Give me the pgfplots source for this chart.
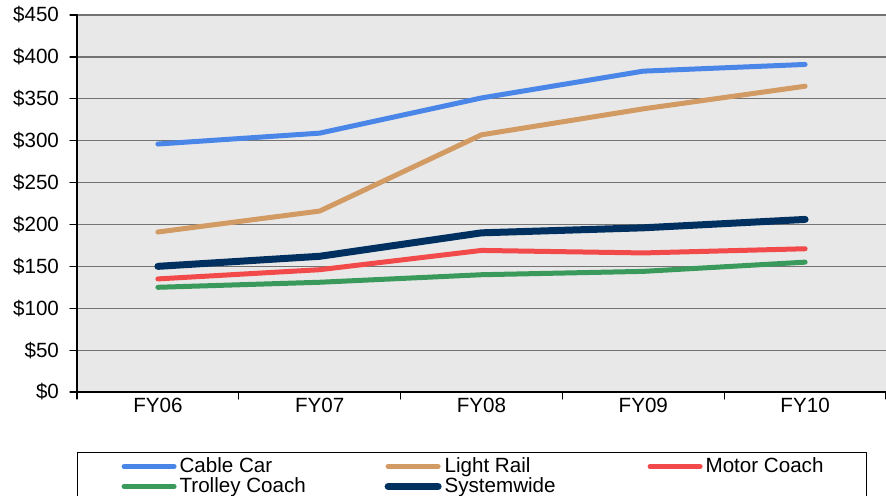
\documentclass[border=0pt]{standalone}
\usepackage{pgfplots}
\pgfplotsset{compat=1.18}
\usepackage{fontspec}
\setmainfont{Liberation Sans}

\definecolor{cablecar}{HTML}{4A86E8}
\definecolor{lightrail}{HTML}{D29B64}
\definecolor{motorcoach}{HTML}{F24A4A}
\definecolor{trolley}{HTML}{3A9A5C}
\definecolor{system}{HTML}{00305F}
\definecolor{plotbg}{HTML}{E8E8E8}

\begin{document}
\begin{tikzpicture}
\begin{axis}[
  at={(0,0)}, anchor=south west,
  scale only axis,
  width=404.5pt, height=188.5pt,
  xmin=-0.5, xmax=4.5,
  ymin=0, ymax=450,
  axis background/.style={fill=plotbg},
  axis x line*=bottom, axis y line*=left,
  axis line style={black, line width=0.8pt, -},
  xtick={-0.5,0.5,...,4.5},
  xticklabels={FY06,FY07,FY08,FY09,FY10},
  x tick label as interval,
  ytick={0,50,...,450},
  yticklabel={\$\pgfmathprintnumber{\tick}},
  /pgf/number format/assume math mode=true,
  tick align=outside,
  major tick length=3.5pt,
  tick style={black, line width=0.6pt},
  ymajorgrids,
  grid style={draw=black!55, line width=0.6pt},
  ticklabel style={font=\fontsize{10.3}{12}\selectfont},
  yticklabel style={xshift=-2pt},
  xticklabel style={yshift=4pt},
  line cap=round, line join=round,
  legend columns=3,
  legend style={at={(0,0)}, anchor=north west, yshift=-30pt,
    draw=black, line width=0.6pt, fill=white,
    font=\fontsize{10.3}{12}\selectfont,
    inner xsep=22pt, inner ysep=0.5pt, row sep=-3pt,
    nodes={inner xsep=2pt},
    /tikz/every even column/.append style={column sep=0pt}},
  legend cell align=left,
  legend image code/.code={\draw[#1, line cap=round] (0pt,0pt) -- (25pt,0pt);},
]
\addplot[cablecar, line width=2.5pt] coordinates {(0,296) (1,309) (2,351) (3,383) (4,391)};
\addlegendentry{\makebox[100pt][l]{\hspace*{-0.5pt}Cable Car}}
\addplot[lightrail, line width=2.5pt] coordinates {(0,191) (1,216) (2,307) (3,338) (4,365)};
\addlegendentry{\makebox[99pt][l]{\hspace*{-0.5pt}Light Rail}}
\addplot[motorcoach, line width=2.5pt] coordinates {(0,135) (1,146) (2,169) (3,166) (4,171)};
\addlegendentry{\makebox[56pt][l]{\hspace*{-0.5pt}Motor Coach}}
\addplot[trolley, line width=2.5pt] coordinates {(0,125) (1,131) (2,140) (3,144) (4,155)};
\addlegendentry{\makebox[100pt][l]{\hspace*{-0.5pt}Trolley Coach}}
\addplot[system, line width=3.5pt] coordinates {(0,150) (1,162) (2,190) (3,196) (4,206)};
\addlegendentry{\makebox[99pt][l]{\hspace*{-0.5pt}Systemwide}}
\end{axis}
\pgfresetboundingbox
\path (-38.5pt,-51.5pt) rectangle (404.5pt,196pt);
\end{tikzpicture}
\end{document}
